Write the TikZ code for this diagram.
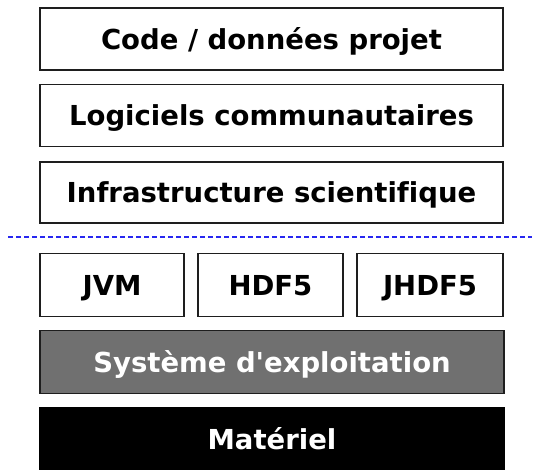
\documentclass[tikz,border=0pt]{standalone}
\usepackage{fontspec}
\newfontfamily\labfont{DejaVu Sans Bold}[Ligatures=NoCommon]
\definecolor{osgray}{RGB}{112,112,112}
\definecolor{edge}{RGB}{30,30,30}
\definecolor{sepblue}{RGB}{40,40,240}
\begin{document}
\begin{tikzpicture}[x=1pt,y=-1pt,
  labtext/.style={inner sep=0pt,text height=26.5pt,text depth=6pt,
    font=\labfont\fontsize{27.5}{30}\selectfont},
  layer/.style={labtext,draw=edge,line width=1.4pt,fill=white},
  oslayer/.style={layer,fill=osgray,text=white},
  hwlayer/.style={labtext,draw=none,fill=black,text=white},
  sep/.style={sepblue,line width=1.3pt,dash pattern=on 5pt off 3pt}]
\useasboundingbox (0,0) rectangle (533,470);
% upper stack: project and community layers
\node[layer,minimum width=463pt,minimum height=62pt] (code) at (271.5,39) {Code / données projet};
\node[layer,minimum width=463pt,minimum height=62pt] (logi) at (271.5,115.5) {Logiciels communautaires};
\node[layer,minimum width=463pt,minimum height=61pt] (infra) at (271.5,192.5) {Infrastructure scientifique};
% separator
\coordinate (sepL) at (8,237);
\coordinate (sepR) at (532,237);
\draw[sep] (sepL) -- (sepR);
% libraries
\node[layer,minimum width=144pt,minimum height=63pt] (jvm) at (112,285) {JVM};
\node[layer,minimum width=145pt,minimum height=63pt] (hdf) at (270.5,285) {HDF5};
\node[layer,minimum width=146pt,minimum height=63pt] (jhdf) at (430,285) {JHDF5};
% operating system and hardware
\node[oslayer,minimum width=464pt,minimum height=63pt] (os) at (272,362) {Système d'exploitation};
\node[hwlayer,minimum width=466pt,minimum height=64pt] (hw) at (272,439) {Matériel};
\end{tikzpicture}
\end{document}
